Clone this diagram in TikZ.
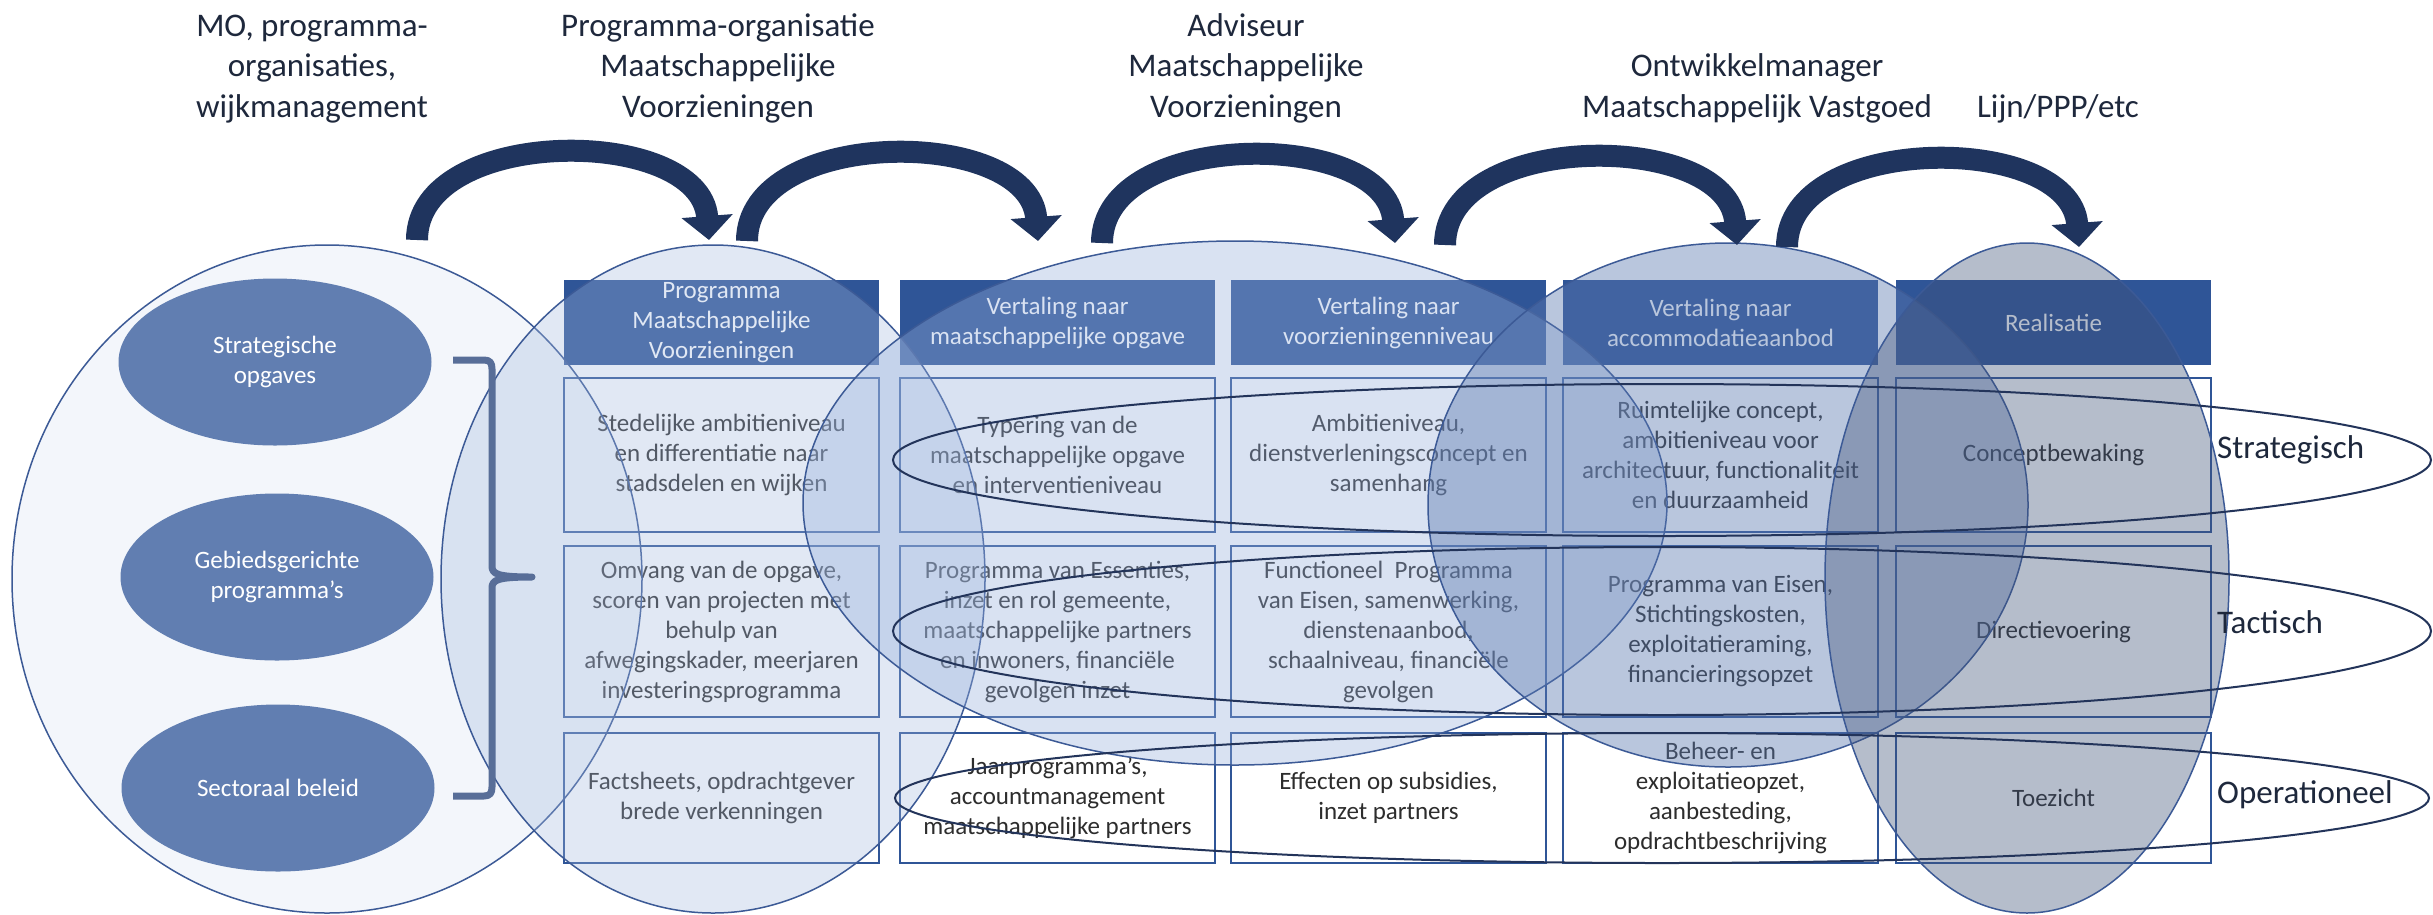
\documentclass[tikz,border=0pt]{standalone}
\usepackage{fontspec}
\setmainfont{Carlito}
\usetikzlibrary{arrows.meta,shapes.geometric}
\definecolor{hdr}{RGB}{47,85,151}
\definecolor{boxline}{RGB}{47,85,151}
\definecolor{rowtext}{RGB}{45,45,45}
\definecolor{titletext}{RGB}{30,40,60}
\definecolor{arrowcol}{RGB}{31,52,94}
\definecolor{elA}{RGB}{180,199,231}
\definecolor{elB}{RGB}{162,184,222}
\definecolor{elC}{RGB}{150,175,220}
\definecolor{elD}{RGB}{90,120,175}
\definecolor{elE}{RGB}{63,82,120}
\definecolor{elline}{RGB}{60,90,150}
\definecolor{smallel}{RGB}{97,126,177}
\definecolor{bracketcol}{RGB}{88,110,152}
\definecolor{loopcol}{RGB}{35,52,90}
\tikzset{
  cellbox/.style={draw=boxline, line width=2pt, fill=white, minimum width=315pt, inner sep=0pt, align=center, text=rowtext, font=\fontsize{25}{30}\selectfont},
  hdrbox/.style={fill=hdr, minimum width=315pt, minimum height=85pt, inner sep=0pt, align=center, text=white, font=\fontsize{25}{30}\selectfont},
  rowa/.style={minimum height=154pt},
  rowb/.style={minimum height=171pt},
  rowc/.style={minimum height=130pt},
  bigel/.style={draw=elline, line width=1.5pt},
  smallell/.style={ellipse, fill=smallel, minimum width=313pt, minimum height=167pt, inner sep=0pt, align=center, text=white, font=\fontsize{25}{30}\selectfont},
  looppath/.style={draw=loopcol, line width=2pt},
  flowarrow/.style={draw=arrowcol, line width=22pt, -{Triangle[width=50pt,length=24pt]}},
  titletxt/.style={align=center, text=titletext, font=\fontsize{33}{40.5}\selectfont, inner sep=0pt, anchor=base},
  leveltxt/.style={text=titletext, font=\fontsize{33}{40.5}\selectfont, inner sep=0pt, anchor=base west},
}
\begin{document}
\begin{tikzpicture}[x=1pt,y=-1pt]
\fill[white] (0,0) rectangle (2433,914);
\useasboundingbox (0,0) rectangle (2433,914);

% headers
\node[hdrbox] (h2) at (721.5,322.5) {Programma\\Maatschappelijke\\Voorzieningen};
\node[hdrbox] (h3) at (1057.5,322.5) {Vertaling naar\\maatschappelijke opgave};
\node[hdrbox] (h4) at (1388.5,322.5) {Vertaling naar\\voorzieningenniveau};
\node[hdrbox] (h5) at (1720.5,322.5) {Vertaling naar\\accommodatieaanbod};
\node[hdrbox] (h6) at (2053.5,322.5) {Realisatie};

% row 1
\node[cellbox,rowa] (a2) at (721.5,455) {Stedelijke ambitieniveau\\en differentiatie naar\\stadsdelen en wijken};
\node[cellbox,rowa] (a3) at (1057.5,455) {Typering van de\\maatschappelijke opgave\\en interventieniveau};
\node[cellbox,rowa] (a4) at (1388.5,455) {Ambitieniveau,\\dienstverleningsconcept en\\samenhang};
\node[cellbox,rowa] (a5) at (1720.5,455) {Ruimtelijke concept,\\ambitieniveau voor\\architectuur, functionaliteit\\en duurzaamheid};
\node[cellbox,rowa] (a6) at (2053.5,455) {Conceptbewaking};

% row 2
\node[cellbox,rowb] (b2) at (721.5,631.5) {Omvang van de opgave,\\scoren van projecten met\\behulp van\\afwegingskader, meerjaren\\investeringsprogramma};
\node[cellbox,rowb] (b3) at (1057.5,631.5) {Programma van Essenties,\\inzet en rol gemeente,\\maatschappelijke partners\\en inwoners, financiële\\gevolgen inzet};
\node[cellbox,rowb] (b4) at (1388.5,631.5) {Functioneel\ \ Programma\\van Eisen, samenwerking,\\dienstenaanbod,\\schaalniveau, financiële\\gevolgen};
\node[cellbox,rowb] (b5) at (1720.5,631.5) {Programma van Eisen,\\Stichtingskosten,\\exploitatieraming,\\financieringsopzet};
\node[cellbox,rowb] (b6) at (2053.5,631.5) {Directievoering};

% row 3
\node[cellbox,rowc] (c2) at (721.5,798) {Factsheets, opdrachtgever\\brede verkenningen};
\node[cellbox,rowc] (c3) at (1057.5,798) {Jaarprogramma’s,\\accountmanagement\\maatschappelijke partners};
\node[cellbox,rowc] (c4) at (1388.5,798) {Effecten op subsidies,\\inzet partners};
\node[cellbox,rowc] (c5) at (1720.5,798) {Beheer- en\\exploitatieopzet,\\aanbesteding,\\opdrachtbeschrijving};
\node[cellbox,rowc] (c6) at (2053.5,798) {Toezicht};

% big translucent ellipses
\path[bigel, fill=elA, fill opacity=0.15] (327,579) ellipse [x radius=315pt, y radius=334pt];
\path[bigel, fill=elB, fill opacity=0.32] (713,579) ellipse [x radius=272pt, y radius=334pt];
\path[bigel, fill=elC, fill opacity=0.36] (1235,503) ellipse [x radius=432pt, y radius=262pt];
\path[bigel, fill=elD, fill opacity=0.42] (1728,505) ellipse [x radius=300pt, y radius=262pt];
\path[bigel, fill=elE, fill opacity=0.38] (2027,578) ellipse [x radius=202pt, y radius=335pt];

% small ellipses
\node[smallell] (s1) at (275,362) {Strategische\\opgaves};
\node[smallell] (s2) at (277,577) {Gebiedsgerichte\\programma’s};
\node[smallell] (s3) at (278,788) {Sectoraal beleid};

% bracket
\draw[bracketcol, line width=7pt, line join=round]
  (453,360) -- (484,360) .. controls (490,360) and (492,363) .. (492,369)
  -- (492,566) .. controls (492,574) and (497,577) .. (532,577)
  .. controls (497,577) and (492,580) .. (492,588)
  -- (492,787) .. controls (492,793) and (490,796) .. (484,796) -- (453,796);

% level loops
\path[looppath] (1662,460) ellipse [x radius=769pt, y radius=76pt];
\path[looppath] (1662,631) ellipse [x radius=769pt, y radius=84pt];
\path[looppath] (1662,798) ellipse [x radius=767pt, y radius=65pt];

% arrows
\coordinate (t1) at (417,240); \coordinate (p1) at (709,240);
\coordinate (t2) at (747,241); \coordinate (p2) at (1038,241);
\coordinate (t3) at (1102,243); \coordinate (p3) at (1395,243);
\coordinate (t4) at (1445,245); \coordinate (p4) at (1737,245);
\coordinate (t5) at (1787,247); \coordinate (p5) at (2079,247);
\draw[flowarrow] (t1) .. controls +(0,-115) and +(-9,-115) .. (p1);
\draw[flowarrow] (t2) .. controls +(0,-115) and +(-9,-115) .. (p2);
\draw[flowarrow] (t3) .. controls +(0,-115) and +(-9,-115) .. (p3);
\draw[flowarrow] (t4) .. controls +(0,-115) and +(-9,-115) .. (p4);
\draw[flowarrow] (t5) .. controls +(0,-115) and +(-9,-115) .. (p5);

% titles (base anchor = baseline of last line)
\node[titletxt] (ttl1) at (312,117) {MO, programma-\\organisaties,\\wijkmanagement};
\node[titletxt] (ttl2) at (718,117) {Programma-organisatie\\Maatschappelijke\\Voorzieningen};
\node[titletxt] (ttl3) at (1246,117) {Adviseur\\Maatschappelijke\\Voorzieningen};
\node[titletxt] (ttl4) at (1757,117) {Ontwikkelmanager\\Maatschappelijk Vastgoed};
\node[titletxt] (ttl5) at (2058,117) {Lijn/PPP/etc};

% level labels
\node[leveltxt] (lv1) at (2217,458) {Strategisch};
\node[leveltxt] (lv2) at (2217,633) {Tactisch};
\node[leveltxt] (lv3) at (2217,803) {Operationeel};
\end{tikzpicture}
\end{document}
